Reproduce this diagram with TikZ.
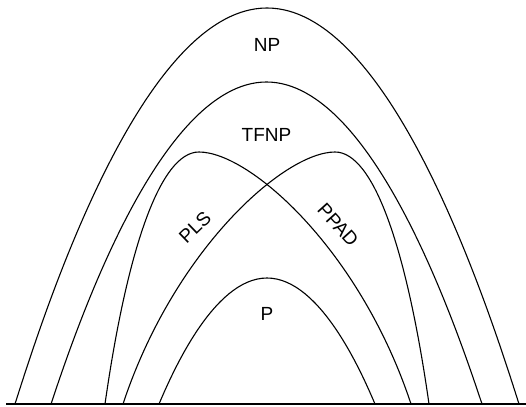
\documentclass[tikz,border=0pt]{standalone}
\usepackage{fontspec}
\setmainfont{Liberation Sans}
\begin{document}
\begin{tikzpicture}[x=1pt,y=-1pt,
  arc/.style={line width=1.1pt,black},
  lbl/.style={font=\fontsize{19}{22}\selectfont,inner sep=0pt}]
\useasboundingbox (0,0) rectangle (526,406);
% NP, TFNP, P
\draw[arc] (15,404) parabola bend (267,8) (519,404);
\draw[arc] (51,404) parabola bend (266.5,82) (482,404);
\draw[arc] (159,404) parabola bend (267,278) (375,404);
% PLS
\draw[arc] (105,404) .. controls (127,250) and (160,152) .. (199,152)
  .. controls (250,152) and (360,250) .. (411,404);
% PPAD (mirror)
\draw[arc] (429,404) .. controls (407,250) and (374,152) .. (335,152)
  .. controls (284,152) and (174,250) .. (123,404);
% baseline
\draw[line width=2pt] (6,404) -- (526,404);
% labels
\node[lbl] (np) at (267,45) {NP};
\node[lbl] (tfnp) at (266.5,135) {TFNP};
\node[lbl] (p) at (267,314) {P};
\node[lbl,rotate=44] (pls) at (195,227) {PLS};
\node[lbl,rotate=-48] (ppad) at (338,225) {PPAD};
\end{tikzpicture}
\end{document}
